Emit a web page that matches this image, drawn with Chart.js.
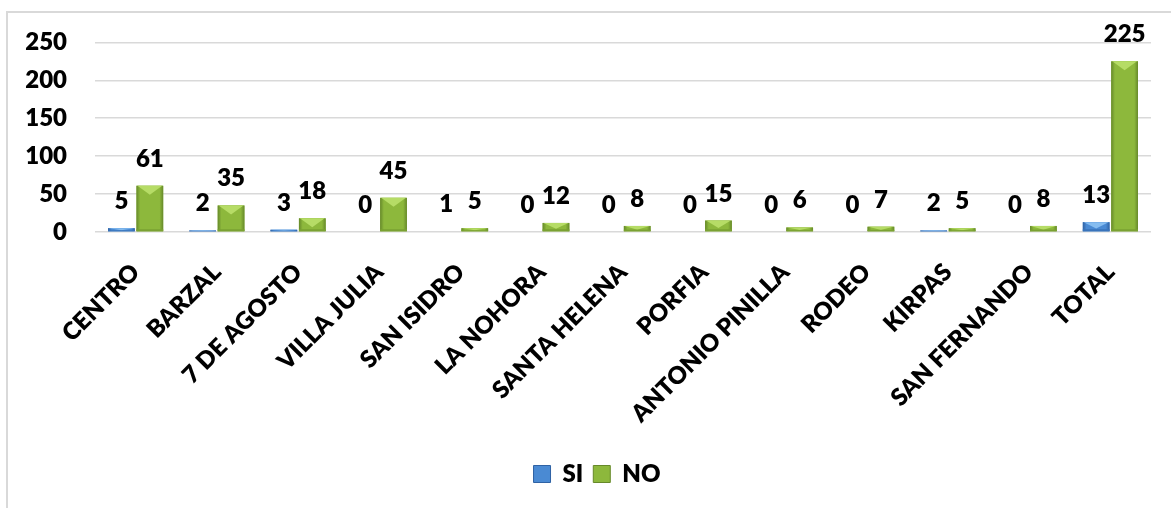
<!DOCTYPE html>
<html>
<head>
<meta charset="utf-8">
<script src="https://cdn.jsdelivr.net/npm/chart.js@4/dist/chart.umd.min.js"></script>
<style>
  html, body { margin: 0; padding: 0; background: #fff; overflow: hidden; }
  #wrap { position: relative; width: 1171px; height: 508px; }
  #frame { position: absolute; left: 6px; top: 11px; width: 1200px; height: 520px;
           border: 2px solid #d9d9d9; box-sizing: border-box; }
  canvas { position: absolute; left: 0; top: 0; }
</style>
</head>
<body>
<div id="wrap">
  <div id="frame"></div>
  <canvas id="chart" width="1171" height="508"></canvas>
</div>
<script>
// Barrios
const categories = ['CENTRO', 'BARZAL', '7 DE AGOSTO', 'VILLA JULIA', 'SAN ISIDRO', 'LA NOHORA',
  'SANTA HELENA', 'PORFIA', 'ANTONIO PINILLA', 'RODEO', 'KIRPAS', 'SAN FERNANDO', 'TOTAL'];
const siValues = [5, 2, 3, 0, 1, 0, 0, 0, 0, 0, 2, 0, 13];
const noValues = [61, 35, 18, 45, 5, 12, 8, 15, 6, 7, 5, 8, 225];
const yTicks = [0, 50, 100, 150, 200, 250];

const FONT = 'Lato, "Open Sans", sans-serif';
const WEIGHT = '800';

// Face, edge and highlight tones for the bevelled bars
const palettes = [
  { face: '#4a8ad3', edge: '#2f62a4', light: '#86bdf0', dark: '#3a74bb' },
  { face: '#8db83c', edge: '#66892a', light: '#b6dc66', dark: '#7aa132' }
];

// Paints each bar with darker sides and a lighter top bevel
const bevelPlugin = {
  id: 'bevel',
  afterDatasetsDraw(chart) {
    const ctx = chart.ctx;
    chart.data.datasets.forEach((ds, di) => {
      const meta = chart.getDatasetMeta(di);
      const pal = palettes[di];
      meta.data.forEach(bar => {
        const { x, y, base, width } = bar.getProps(['x', 'y', 'base', 'width'], true);
        const h = base - y;
        if (h <= 0.2) return;
        const l = x - width / 2, r = x + width / 2;
        ctx.save();
        const g = ctx.createLinearGradient(l, 0, r, 0);
        g.addColorStop(0, pal.edge);
        g.addColorStop(0.14, pal.face);
        g.addColorStop(0.86, pal.face);
        g.addColorStop(1, pal.edge);
        ctx.fillStyle = g;
        ctx.fillRect(l, y, width, h);
        const b = Math.min(9, h * 0.7);
        ctx.fillStyle = pal.light;
        ctx.beginPath();
        ctx.moveTo(l + 1, y);
        ctx.lineTo(r - 1, y);
        ctx.lineTo(x, y + b);
        ctx.closePath();
        ctx.fill();
        ctx.fillStyle = pal.dark;
        ctx.fillRect(l, base - Math.min(2, h * 0.3), width, Math.min(2, h * 0.3));
        ctx.restore();
      });
    });
  }
};

// Value labels above every bar
const valueLabelPlugin = {
  id: 'valueLabels',
  afterDatasetsDraw(chart) {
    const ctx = chart.ctx;
    ctx.save();
    ctx.font = WEIGHT + ' 24px ' + FONT;
    ctx.fillStyle = '#000';
    ctx.textAlign = 'center';
    ctx.textBaseline = 'alphabetic';
    chart.data.datasets.forEach((ds, di) => {
      const meta = chart.getDatasetMeta(di);
      meta.data.forEach((bar, i) => {
        const { x, y } = bar.getProps(['x', 'y'], true);
        ctx.fillText(String(ds.data[i]), x, y - 19);
      });
    });
    ctx.restore();
  }
};

new Chart(document.getElementById('chart'), {
  type: 'bar',
  data: {
    labels: categories,
    datasets: [
      { label: 'SI', data: siValues, backgroundColor: palettes[0].face, borderWidth: 0,
        categoryPercentage: 0.7, barPercentage: 0.94 },
      { label: 'NO', data: noValues, backgroundColor: palettes[1].face, borderWidth: 0,
        categoryPercentage: 0.7, barPercentage: 0.94 }
    ]
  },
  options: {
    responsive: false,
    animation: false,
    layout: { padding: { left: 23, right: 0, top: 42, bottom: 12 } },
    plugins: {
      tooltip: { enabled: false },
      legend: {
        position: 'bottom',
        labels: {
          boxWidth: 17,
          boxHeight: 17,
          padding: 10,
          color: '#000',
          font: { family: FONT, size: 24, weight: WEIGHT },
          generateLabels(chart) {
            return chart.data.datasets.map((ds, i) => ({
              text: ds.label,
              fillStyle: palettes[i].face,
              strokeStyle: palettes[i].edge,
              lineWidth: 1,
              datasetIndex: i
            }));
          }
        }
      }
    },
    scales: {
      x: {
        grid: { display: false, drawTicks: false },
        border: { display: false },
        ticks: {
          autoSkip: false,
          maxRotation: 45,
          minRotation: 45,
          padding: 26,
          color: '#000',
          font: { family: FONT, size: 24, weight: WEIGHT }
        },
        afterFit(scale) { scale.height = 220; }
      },
      y: {
        min: yTicks[0],
        max: yTicks[yTicks.length - 1],
        afterBuildTicks(scale) { scale.ticks = yTicks.map(v => ({ value: v })); },
        grid: { color: '#d9d9d9', lineWidth: 1.5, drawTicks: false },
        border: { display: false },
        ticks: {
          padding: 28,
          color: '#000',
          font: { family: FONT, size: 24, weight: WEIGHT }
        },
        afterFit(scale) { scale.width = 72; }
      },
      // empty right-hand gutter
      gutter: {
        type: 'linear',
        position: 'right',
        grid: { display: false, drawTicks: false },
        border: { display: false },
        ticks: { display: false },
        afterFit(scale) { scale.width = 20; }
      }
    }
  },
  plugins: [bevelPlugin, valueLabelPlugin]
});
</script>
</body>
</html>
